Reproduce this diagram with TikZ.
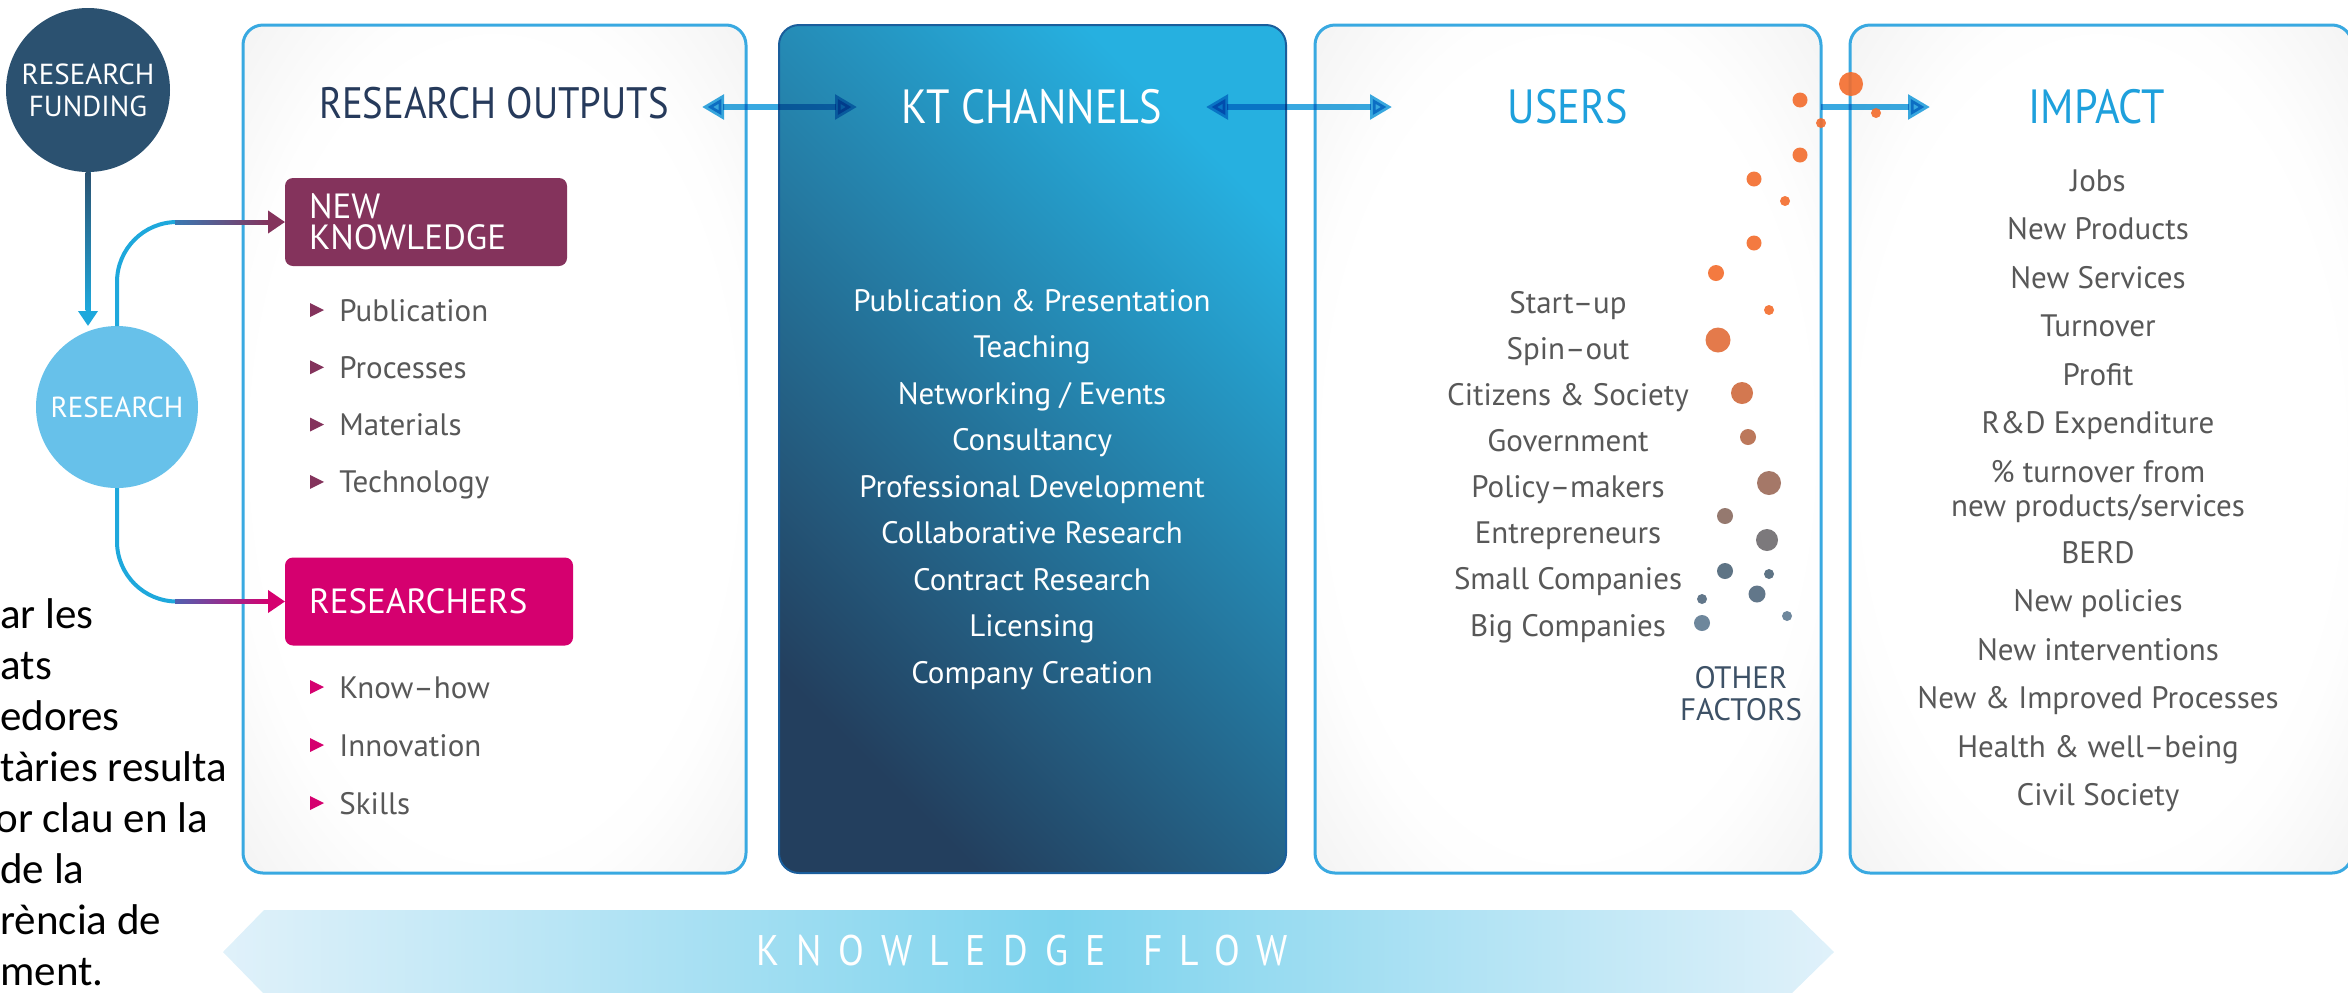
\documentclass[tikz,border=0pt]{standalone}
\usepackage{fontspec}
\setmainfont{PT Sans}
\newfontfamily\headfont{PT Sans}[FakeStretch=0.88]
\newfontfamily\flowfont{PT Sans}[FakeStretch=0.88,LetterSpace=40]
\newfontfamily\calfont{Carlito}
\usetikzlibrary{arrows.meta,calc}
\definecolor{bordc}{HTML}{39A9E1}
\definecolor{navy}{HTML}{263A5B}
\definecolor{headblue}{HTML}{1EA0DC}
\definecolor{txtgrey}{HTML}{585858}
\definecolor{fundc}{HTML}{2B5170}
\definecolor{resc}{HTML}{67C1EA}
\definecolor{nkc}{HTML}{84335C}
\definecolor{rsc}{HTML}{D5006F}
\definecolor{ktdark}{HTML}{233F5E}
\definecolor{ktlight}{HTML}{26B0E0}
\definecolor{ktbord}{HTML}{1A5E9C}
\definecolor{kfl}{HTML}{E0F1FA}
\definecolor{kfm}{HTML}{7DD3ED}
\definecolor{cyanl}{HTML}{1EA8DC}
\definecolor{cmid}{HTML}{3A78B2}
\definecolor{cmidb}{HTML}{5060B0}
\definecolor{ofc}{HTML}{3D5166}
\definecolor{vg1}{HTML}{FEFEFE}
\definecolor{vg2}{HTML}{F3F3F3}
\definecolor{d1}{HTML}{F36C2C}
\definecolor{d2}{HTML}{E26C38}
\definecolor{d3}{HTML}{CF6A3E}
\definecolor{d4}{HTML}{B56A4A}
\definecolor{d5}{HTML}{9C6A58}
\definecolor{d6}{HTML}{8A6B60}
\definecolor{d7}{HTML}{6E6B6E}
\definecolor{d8}{HTML}{4D6578}
\definecolor{d9}{HTML}{52697E}
\definecolor{d10}{HTML}{5F7A92}
\pgfdeclarehorizontalshading{kflow}{100bp}{color(0bp)=(kfl); color(25bp)=(kfl); color(51bp)=(kfm); color(75bp)=(kfl); color(100bp)=(kfl)}
\pgfdeclareradialshading{vign}{\pgfpoint{0bp}{0bp}}{color(0bp)=(white); color(23bp)=(white); color(26bp)=(vg1); color(36bp)=(vg2); color(50bp)=(vg2)}
\tikzset{
  obox/.style={shade, shading=vign, draw=bordc, line width=1.5pt, rounded corners=10pt, minimum height=424pt, inner sep=0pt, outer sep=0pt},
  head/.style={font=\headfont\fontsize{24}{28}\selectfont, anchor=base, inner sep=0pt},
  item/.style={font=\fontsize{15.5}{18}\selectfont, text=txtgrey, anchor=base, inner sep=0pt},
  ktitem/.style={item, text=white},
  bitem/.style={item, anchor=base west},
  flowarr/.style={line width=3pt, draw=bordc},
  tagbox/.style={rounded corners=4pt, text=white, font=\fontsize{17.5}{15.5}\selectfont, align=left, inner xsep=12pt, inner ysep=0pt, outer sep=0pt, minimum height=44pt},
  circ/.style={circle, text=white, font=\fontsize{14.5}{16}\selectfont, align=center, inner sep=0pt, outer sep=0pt},
  ltxt/.style={font=\calfont\fontsize{21.5}{25}\selectfont, anchor=base west, inner sep=0pt, text=black},
  dot/.style={opacity=0.9},
  tipbig/.tip={Triangle[length=11pt,width=12pt]}
}
\begin{document}
\begin{tikzpicture}[x=0.5pt,y=-0.5pt]
\useasboundingbox (0,0) rectangle (2348,992);

% ---- boxes
\node[obox, minimum width=251.5pt] (b1) at (494.5,449) {};
\node[shade, left color=ktdark, right color=ktlight, shading angle=135, draw=ktbord, line width=1pt, rounded corners=10pt, minimum width=253.5pt, minimum height=424pt, inner sep=0pt, outer sep=0pt] (b2) at (1032.5,449) {};
\node[obox, minimum width=253pt] (b3) at (1568,449) {};
\node[obox, minimum width=251pt] (b4) at (2101,449) {};

% ---- knowledge flow band
\shade[shading=kflow] (223,952) -- (264,910) -- (1791,910) -- (1834,952) -- (1791,994) -- (264,994) -- cycle;
\node[text=white, anchor=base west, inner sep=0pt] (kf1) at (756,965) {\flowfont\fontsize{21.4}{24}\selectfont KNOWLEDGE};
\node[text=white, anchor=base west, inner sep=0pt] (kf2) at (1143,965) {\flowfont\fontsize{21.4}{24}\selectfont FLOW};

% ---- arrows between boxes
\begin{scope}[blend mode=multiply]
\draw[flowarr, tipbig-tipbig] ([shift={(-44,82)}]b1.north east) -- ([shift={(78,82)}]b2.north west);
\draw[flowarr, tipbig-tipbig] ([shift={(-80,82)}]b2.north east) -- ([shift={(77,82)}]b3.north west);
\draw[flowarr, -tipbig] ([shift={(0,82)}]b3.north east) -- ([shift={(80,82)}]b4.north west);
\end{scope}

% ---- left circles
\node[circ, fill=fundc, minimum size=82pt] (fund) at (88,90) {RESEARCH\\FUNDING};
\node[circ, fill=resc, minimum size=81pt] (res) at (117,407) {RESEARCH};

% ---- tag boxes
\node[tagbox, fill=nkc, text width=117pt] (nk) at (426,222) {NEW\\KNOWLEDGE};
\node[tagbox, fill=rsc, text width=120pt] (rs) at (429,601.5) {RESEARCHERS};

% ---- connectors on the left
\draw[line width=2.5pt, draw=cyanl, -{Triangle[length=7.5pt,width=9.5pt]}] (fund.south) -- (fund.south |- res.north);
\shade[top color=fundc, bottom color=cyanl] ($(fund.south)+(-2.5,0)$) rectangle ($(fund.south |- res.north)+(2.5,-16)$);

\draw[line width=2pt, draw=cyanl, rounded corners=30pt, -{Triangle[length=8.5pt,width=11pt,color=nkc]}] (res.north) |- (nk.west);
\shade[left color=cmid, right color=nkc] ($(res.north |- nk.west)+(58,-2)$) rectangle ($(nk.west)+(-16,2)$);
\draw[line width=2pt, draw=cyanl, rounded corners=30pt, -{Triangle[length=8.5pt,width=11pt,color=rsc]}] (res.south) |- (rs.west);
\shade[left color=cmidb, right color=rsc] ($(res.south |- rs.west)+(58,-2)$) rectangle ($(rs.west)+(-16,2)$);

% ---- headings
\node[head, font=\headfont\fontsize{22}{26}\selectfont, text=navy] (ro) at (494,118) {RESEARCH OUTPUTS};
\node[head, text=white] (kt) at (1032,123) {KT CHANNELS};
\node[head, text=headblue] (us) at (1568,123) {USERS};
\node[head, text=headblue] (im) at (2097,123) {IMPACT};

% ---- research output lists
\foreach \t [count=\i] in {Publication,Processes,Materials,Technology}{
  \pgfmathsetmacro{\yy}{310+57.3*(\i-1)}
  \node[bitem] (ro\i) at (339,\yy+11) {\t};
  \fill[nkc] (310,\yy-7) -- (324,\yy) -- (310,\yy+7) -- cycle;
}
\foreach \t [count=\i] in {Know–how,Innovation,Skills}{
  \pgfmathsetmacro{\yy}{687+58*(\i-1)}
  \node[bitem] (rr\i) at (339,\yy+11) {\t};
  \fill[rsc] (310,\yy-7) -- (324,\yy) -- (310,\yy+7) -- cycle;
}

% ---- KT channels list
\foreach \t [count=\i] in {Publication \& Presentation,Teaching,Networking / Events,Consultancy,Professional Development,Collaborative Research,Contract Research,Licensing,Company Creation}{
  \node[ktitem] (kt\i) at (1032,{300+46.5*(\i-1)+11}) {\t};
}

% ---- users list
\foreach \t [count=\i] in {Start–up,Spin–out,Citizens \& Society,Government,Policy–makers,Entrepreneurs,Small Companies,Big Companies}{
  \node[item] (us\i) at (1568,{302+46.15*(\i-1)+11}) {\t};
}
\node[item, anchor=center, text=ofc, align=center, font=\fontsize{15.5}{16}\selectfont] (of) at (1741,694) {OTHER\\FACTORS};

% ---- impact list
\foreach \t [count=\i] in {Jobs,New Products,New Services,Turnover,Profit,R\&D Expenditure,\% turnover from}{
  \node[item] (im\i) at (2098,{180+48.5*(\i-1)+11}) {\t};
}
\node[item] (im8) at (2098,516) {new products/services};
\foreach \t [count=\i] in {BERD,New policies,New interventions,New \& Improved Processes,Health \& well–being,Civil Society}{
  \node[item] (imb\i) at (2098,{552+48.5*(\i-1)+11}) {\t};
}

% ---- dots
\foreach \x/\y/\r/\c in {1800/100/7.5/d1, 1821/123/5/d1, 1800/155/7.5/d1, 1754/179/7.5/d1, 1785/201/5/d1, 1754/243/7.5/d1, 1716/273/8/d1, 1769/310/5/d1, 1718/340/12.5/d2, 1742/393/11/d3, 1748/437/8/d4, 1769/483/12/d5, 1725/516/8/d6, 1767/540/11/d7, 1725/571/8/d8, 1769/574/5/d8, 1757/594/8.5/d9, 1702/599/5/d9, 1702/623/8/d10, 1787/616/5/d10, 1851/84/12/d1, 1876/113/5/d1}{
  \fill[\c, dot] (\x,\y) circle[radius=\r*0.5pt];
}

% ---- left text (cropped paragraph)
\node[ltxt] (l1) at (0,628) {ar les};
\node[ltxt] (l2) at (0,679) {ats};
\node[ltxt] (l3) at (0,730) {edores};
\node[ltxt] (l4) at (0,781) {tàries resulta};
\node[ltxt] (l5) at (-5,832) {or clau en la};
\node[ltxt] (l6) at (0,883) {de la};
\node[ltxt] (l7) at (0,934) {rència de};
\node[ltxt] (l8) at (0,985) {ment.};
\end{tikzpicture}
\end{document}
